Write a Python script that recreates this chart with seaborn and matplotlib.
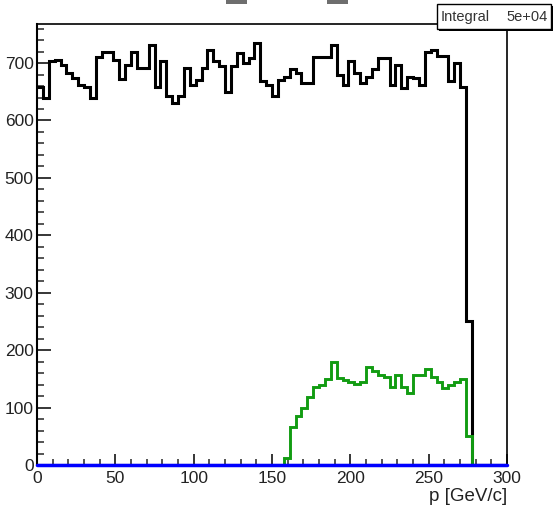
import numpy as np
import pandas as pd
import matplotlib
matplotlib.use("Agg")
import matplotlib.pyplot as plt
import seaborn as sns
from matplotlib.ticker import MultipleLocator
from matplotlib.patches import Rectangle

# ---------------- data ----------------
n_bins = 80
x_min, x_max = 0, 300
y_max = 768

black_counts = [659, 639, 703, 705, 697, 682, 674, 662, 659, 639,
                711, 720, 720, 705, 672, 697, 720, 691, 691, 732,
                659, 703, 642, 630, 642, 691, 662, 671, 691, 723,
                703, 694, 650, 694, 717, 700, 708, 735, 668, 662,
                642, 671, 676, 690, 682, 665, 665, 711, 711, 711,
                732, 680, 662, 703, 682, 665, 675, 690, 708, 708,
                662, 697, 656, 676, 674, 662, 720, 723, 712, 712,
                668, 700, 659, 250, 0, 0, 0, 0, 0, 0]

green_counts = [0] * 42 + [12, 67, 85, 99, 119, 136, 140, 150, 180, 151,
                           148, 145, 141, 145, 171, 163, 157, 154, 136, 157,
                           136, 125, 157, 157, 168, 154, 145, 134, 139, 145,
                           150, 50, 0, 0, 0, 0, 0, 0]

blue_counts = [0] * 80

x_title = "p [GeV/c]"
stats_name = "Integral"
stats_value = "5e+04"

# ---------------- build table ----------------
edges = np.linspace(x_min, x_max, n_bins + 1)
centers = 0.5 * (edges[:-1] + edges[1:])
df = pd.DataFrame({"p": centers, "black": black_counts,
                   "green": green_counts, "blue": blue_counts})

# ---------------- style ----------------
sns.set_theme(style="white")
plt.rcParams["font.family"] = ["Liberation Sans", "DejaVu Sans"]

W, H = 554, 507
fig = plt.figure(figsize=(W / 100, H / 100), dpi=100)
ax = fig.add_axes([37 / W, 1 - 465 / H, 470 / W, 441 / H])

common = dict(bins=n_bins, binrange=(x_min, x_max), element="step",
              fill=False, ax=ax)
sns.histplot(data=df, x="p", weights="black", color="black",
             linewidth=2.2, **common)
sns.histplot(data=df, x="p", weights="green", color="#129c12",
             linewidth=2.1, **common)
sns.histplot(data=df, x="p", weights="blue", color="#0000ff",
             linewidth=2.5, **common)

for ln in ax.lines:
    ln.set_solid_joinstyle("miter")
ax.lines[-1].set_clip_on(False)
ax.lines[-1].set_zorder(10)

ax.set_xlim(x_min, x_max)
ax.set_ylim(0, y_max)
ax.set_ylabel("")
ax.set_xlabel(x_title, fontsize=13.5, color="#222222")
ax.xaxis.set_label_coords(1.0, -0.0525)
ax.xaxis.label.set_horizontalalignment("right")
ax.xaxis.label.set_verticalalignment("top")

ax.xaxis.set_major_locator(MultipleLocator(50))
ax.xaxis.set_minor_locator(MultipleLocator(10))
ax.yaxis.set_major_locator(MultipleLocator(100))
ax.yaxis.set_minor_locator(MultipleLocator(20))

ax.tick_params(axis="x", which="major", direction="in", length=8, width=1.1,
               pad=4.0, labelsize=12.5, colors="black", labelcolor="#222222",
               bottom=True)
ax.tick_params(axis="x", which="minor", direction="in", length=4.3,
               width=1.1, bottom=True)
ax.tick_params(axis="y", which="major", direction="in", length=10, width=1.1,
               pad=2.5, labelsize=12.5, colors="black", labelcolor="#222222",
               left=True)
ax.tick_params(axis="y", which="minor", direction="in", length=5, width=1.1,
               left=True)

for side in ["left", "bottom"]:
    ax.spines[side].set_linewidth(1.5)
    ax.spines[side].set_color("black")
for side in ["top", "right"]:
    ax.spines[side].set_linewidth(1.2)
    ax.spines[side].set_color("black")

# stats box (ROOT style, with shadow)
bx0, by0, bw, bh = 437, 4, 114, 25
fig.add_artist(Rectangle(((bx0 + 2) / W, 1 - (by0 + bh + 2) / H), bw / W, bh / H,
                         transform=fig.transFigure, facecolor="black",
                         edgecolor="black", lw=0, zorder=20))
fig.add_artist(Rectangle((bx0 / W, 1 - (by0 + bh) / H), bw / W, bh / H,
                         transform=fig.transFigure, facecolor="white",
                         edgecolor="black", lw=1.0, zorder=21))
fig.text(441 / W, 1 - 17 / H, stats_name, fontsize=10.5, ha="left",
         va="center", zorder=22, color="#333333")
fig.text(548 / W, 1 - 17 / H, stats_value, fontsize=10.5, ha="right",
         va="center", zorder=22, color="#333333")

# clipped title remnants at the very top
for x0 in (226, 327):
    fig.add_artist(Rectangle((x0 / W, 1 - 3.5 / H), 21 / W, 3.5 / H,
                             transform=fig.transFigure, facecolor="#6e6e6e",
                             edgecolor="none", zorder=5))

fig.savefig("out.png", dpi=100, facecolor="white")
